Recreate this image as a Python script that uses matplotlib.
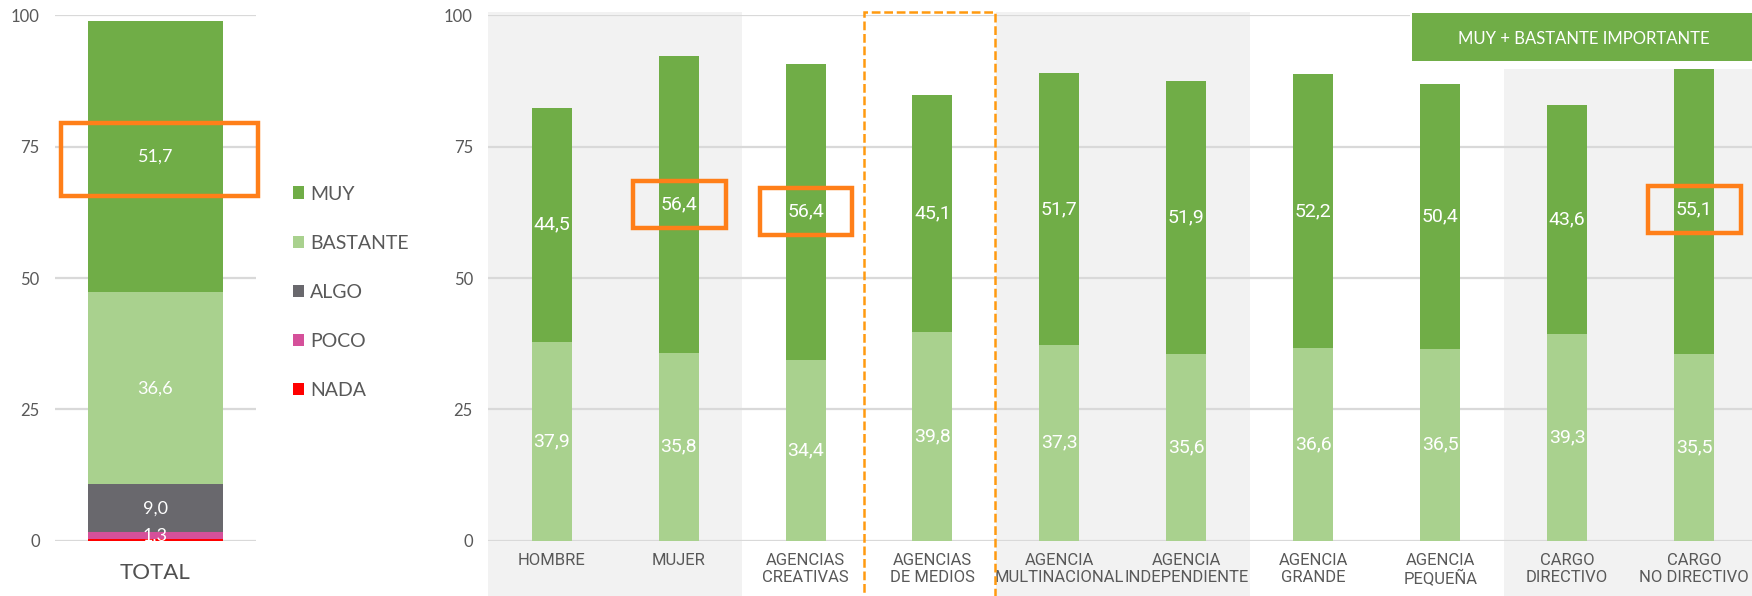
import numpy as np
import matplotlib.pyplot as plt
from matplotlib.patches import Rectangle

# data
levels = ['MUY', 'BASTANTE', 'ALGO', 'POCO', 'NADA']
colors = ['#70AD47', '#A9D18E', '#69686D', '#D5509A', '#FF0000']
total = {'NADA': 0.4, 'POCO': 1.3, 'ALGO': 9.0, 'BASTANTE': 36.6, 'MUY': 51.7}
total_shown = ['POCO', 'ALGO', 'BASTANTE', 'MUY']

groups = ['HOMBRE', 'MUJER', 'AGENCIAS\nCREATIVAS', 'AGENCIAS\nDE MEDIOS',
          'AGENCIA\nMULTINACIONAL', 'AGENCIA\nINDEPENDIENTE', 'AGENCIA\nGRANDE',
          'AGENCIA\nPEQUEÑA', 'CARGO\nDIRECTIVO', 'CARGO\nNO DIRECTIVO']
bastante = [37.9, 35.8, 34.4, 39.8, 37.3, 35.6, 36.6, 36.5, 39.3, 35.5]
muy = [44.5, 56.4, 56.4, 45.1, 51.7, 51.9, 52.2, 50.4, 43.6, 55.1]
highlight = [1, 2, 9]
yticks = [0, 25, 50, 75, 100]

GRID = '#D9D9D9'
BAND = '#F2F2F2'
TXT = '#595959'
ORANGE = '#FF7F19'
geo = ['Lato', 'DejaVu Sans']
narrow = ['Liberation Sans Narrow', 'Roboto', 'DejaVu Sans']


def fmt(v):
    return '{:.1f}'.format(v).replace('.', ',')


def style_axis(ax):
    ax.set_ylim(0, 100)
    ax.set_yticks(yticks)
    ax.grid(axis='y', color=GRID, lw=1.6, zorder=1)
    ax.set_axisbelow(True)
    for s in ax.spines.values():
        s.set_visible(False)
    ax.tick_params(length=0, colors=TXT)
    ax.tick_params(axis='y', pad=11, labelsize=12)
    for lab in ax.get_yticklabels():
        lab.set_family(geo)


fig = plt.figure(figsize=(17.52, 5.96), dpi=100)

# ---- left: total
axl = fig.add_axes([55 / 1752, 1 - 540.7 / 596, 200.7 / 1752, 525.4 / 596])
style_axis(axl)
axl.set_xlim(-0.5, 0.5)
bottom = 0
handles = {}
for lev in ['NADA', 'POCO', 'ALGO', 'BASTANTE', 'MUY']:
    v = total[lev]
    b = axl.bar(0, v, 0.674, bottom=bottom, color=colors[levels.index(lev)],
                zorder=2, label=lev)
    handles[lev] = b
    if lev in total_shown:
        axl.text(0, bottom + v / 2, fmt(v), ha='center', va='center',
                 color='white', fontsize=13, family=geo, zorder=3)
    bottom += v
axl.set_xticks([0])
axl.set_xticklabels(['TOTAL'], fontsize=16, family=geo, color='#505050')
axl.tick_params(axis='x', pad=16)
mid = total['NADA'] + total['POCO'] + total['ALGO'] + total['BASTANTE'] + total['MUY'] / 2
axl.add_patch(Rectangle((-0.47, mid - 7.6), 0.98, 14.0, fill=False,
                        ec=ORANGE, lw=3.2, zorder=4, clip_on=False))

fig.legend([handles[l] for l in levels], levels, loc='upper left',
           bbox_to_anchor=(275 / 1752, 1 - 168 / 596), frameon=False,
           handlelength=0.6, handleheight=0.6, handletextpad=0.3,
           labelspacing=1.65, prop={'family': geo, 'size': 14},
           labelcolor=TXT)

# ---- right: groups
axr = fig.add_axes([488.2 / 1752, 1 - 540.7 / 596, 1 - 488.2 / 1752, 525.4 / 596])
style_axis(axr)
x = np.arange(len(groups))
axr.set_xlim(-0.5, 9.457)

for x0, top in [(-0.5, 100.6), (3.5, 100.6), (7.5, 89.8)]:
    axr.add_patch(Rectangle((x0, -12), 2, top + 12, color=BAND, lw=0,
                            zorder=0, clip_on=False))

axr.bar(x, bastante, 0.315, color=colors[1], zorder=2)
axr.bar(x, muy, 0.315, bottom=bastante, color=colors[0], zorder=2)
for i in x:
    axr.text(i, bastante[i] / 2, fmt(bastante[i]), ha='center', va='center',
             color='white', fontsize=14, family=narrow, zorder=3)
    axr.text(i, bastante[i] + muy[i] / 2, fmt(muy[i]), ha='center', va='center',
             color='white', fontsize=14, family=narrow, zorder=3)

axr.set_xticks(x)
axr.set_xticklabels(groups, fontsize=12, family=narrow, linespacing=1.15)
axr.tick_params(axis='x', pad=9)

for i in highlight:
    c = bastante[i] + muy[i] / 2
    axr.add_patch(Rectangle((i - 0.36, c - 4.4), 0.73, 8.9, fill=False,
                            ec=ORANGE, lw=3.2, zorder=4))

axr.add_patch(Rectangle((2.46, -12), 1.03, 112.7, fill=False, ec='#FF9A10',
                        lw=1.8, ls=(0, (3.5, 1.5)), zorder=4, clip_on=False))

# box label
axr.add_patch(Rectangle((6.76, 89.8), 3.0, 12.0, color='white', lw=0, zorder=3,
                        clip_on=False))
axr.add_patch(Rectangle((6.78, 91.3), 3.0, 9.1, color=colors[0], lw=0, zorder=4,
                        clip_on=False))
fig.text(1584 / 1752, 1 - 38.7 / 596, 'MUY + BASTANTE IMPORTANTE', ha='center',
         va='center', color='white', fontsize=12, family=geo, zorder=5)

fig.savefig('out.png', dpi=100)
